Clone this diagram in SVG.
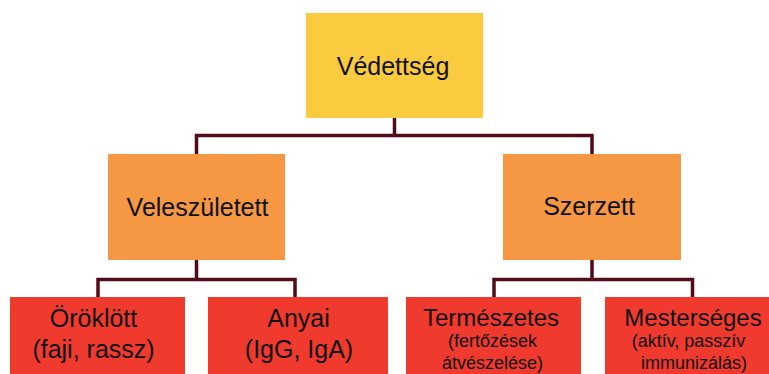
<svg xmlns="http://www.w3.org/2000/svg" width="769" height="374" viewBox="0 0 769 374">
<style>
.c{fill:none;stroke:#520b19;stroke-width:3.5;stroke-linecap:square}
.t{font-family:"Liberation Sans",Arial,sans-serif;fill:#111;text-anchor:middle}
.l{font-size:25px}
.m{font-size:24px}
.s{font-size:18px}
</style>
<rect width="769" height="374" fill="#fff"/>
<g id="connectors">
<path class="c" d="M394.5 118V135.5M196.5 154V135.5H592V154"/>
<path class="c" d="M196.5 260V279.5M98 297V279.5H295V297"/>
<path class="c" d="M592 260V279.5M494 297V279.5H692.5V297"/>
</g>
<g id="vedettseg">
<rect x="306" y="13" width="177" height="105" fill="#fbcb3f"/>
<text class="t l" x="393" y="75">Védettség</text>
</g>
<g id="veleszuletett">
<rect x="108" y="154" width="177" height="106" fill="#f69843"/>
<text class="t l" x="197.5" y="216">Veleszületett</text>
</g>
<g id="szerzett">
<rect x="503" y="154" width="178" height="106" fill="#f69843"/>
<text class="t l" x="589" y="215">Szerzett</text>
</g>
<g id="oroklott">
<rect x="10" y="297" width="175" height="85" fill="#ef3a2d"/>
<text class="t l" x="93.5" y="327">Öröklött</text>
<text class="t l" x="93.5" y="358">(faji, rassz)</text>
</g>
<g id="anyai">
<rect x="208" y="297" width="180" height="85" fill="#ef3a2d"/>
<text class="t l" x="298.5" y="327">Anyai</text>
<text class="t l" x="299" y="358">(IgG, IgA)</text>
</g>
<g id="termeszetes">
<rect x="406" y="297" width="175" height="85" fill="#ef3a2d"/>
<text class="t m" x="491" y="326">Természetes</text>
<text class="t s" x="492.5" y="347">(fertőzések</text>
<text class="t s" x="492.5" y="369">átvészelése)</text>
</g>
<g id="mesterseges">
<rect x="605" y="297" width="170" height="85" fill="#ef3a2d"/>
<text class="t m" x="693" y="326">Mesterséges</text>
<text class="t s" x="688.5" y="347">(aktív, passzív</text>
<text class="t s" x="694" y="369">immunizálás)</text>
</g>
</svg>
